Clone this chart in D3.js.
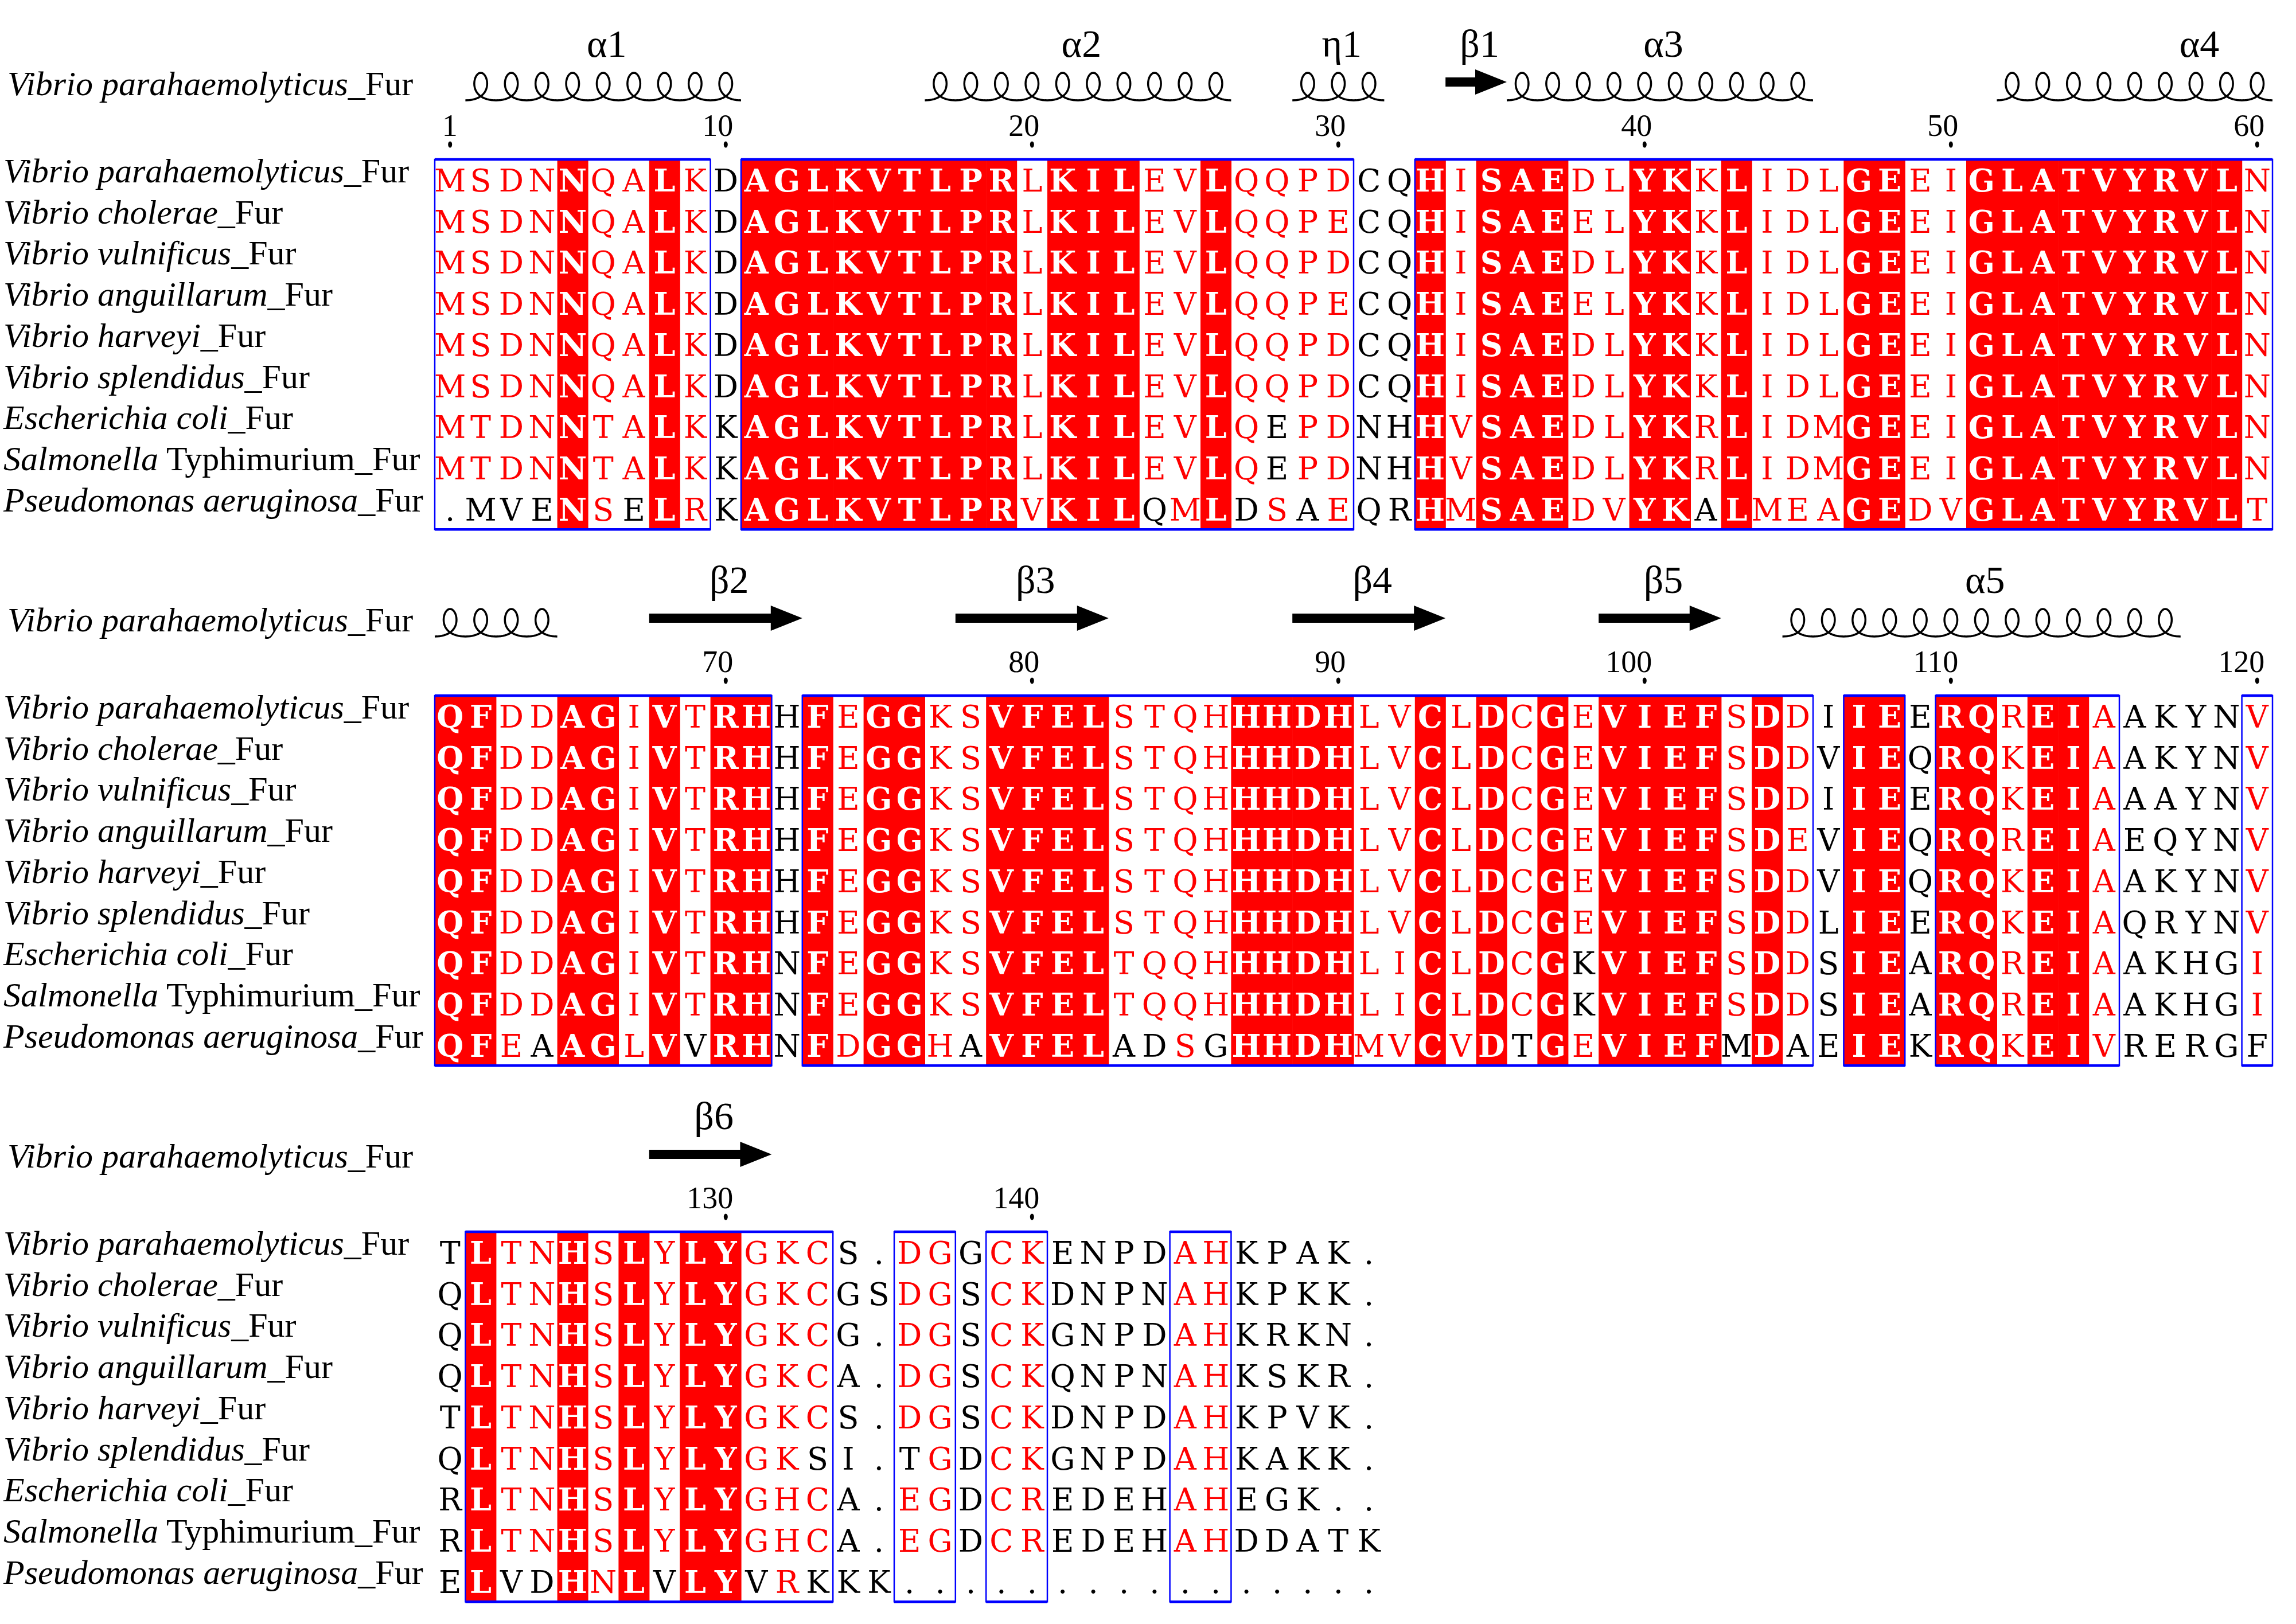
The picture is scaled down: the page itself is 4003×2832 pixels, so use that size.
<!DOCTYPE html>
<html>
<head>
<meta charset="utf-8">
<script src="https://cdn.jsdelivr.net/npm/d3@7"></script>
<style>
  html, body { margin: 0; padding: 0; background: #fff; }
  svg { display: block; }
  .serif { font-family: "Liberation Serif", "Times New Roman", Times, serif; }
  .res { font-family: "DejaVu Serif", serif; }
</style>
</head>
<body>
<svg id="chart"></svg>
<script>
// alignment data
var speciesItalic = ["Vibrio parahaemolyticus", "Vibrio cholerae", "Vibrio vulnificus", "Vibrio anguillarum",
  "Vibrio harveyi", "Vibrio splendidus", "Escherichia coli", "Salmonella", "Pseudomonas aeruginosa"];
var speciesSuffix = ["_Fur", "_Fur", "_Fur", "_Fur", "_Fur", "_Fur", "_Fur", " Typhimurium_Fur", "_Fur"];

var sequences = [
  "MSDNNQALKDAGLKVTLPRLKILEVLQQPDCQHISAEDLYKKLIDLGEEIGLATVYRVLN" + "QFDDAGIVTRHHFEGGKSVFELSTQHHHDHLVCLDCGEVIEFSDDIIEERQREIAAKYNV" + "TLTNHSLYLYGKCS.DGGCKENPDAHKPAK.",
  "MSDNNQALKDAGLKVTLPRLKILEVLQQPECQHISAEELYKKLIDLGEEIGLATVYRVLN" + "QFDDAGIVTRHHFEGGKSVFELSTQHHHDHLVCLDCGEVIEFSDDVIEQRQKEIAAKYNV" + "QLTNHSLYLYGKCGSDGSCKDNPNAHKPKK.",
  "MSDNNQALKDAGLKVTLPRLKILEVLQQPDCQHISAEDLYKKLIDLGEEIGLATVYRVLN" + "QFDDAGIVTRHHFEGGKSVFELSTQHHHDHLVCLDCGEVIEFSDDIIEERQKEIAAAYNV" + "QLTNHSLYLYGKCG.DGSCKGNPDAHKRKN.",
  "MSDNNQALKDAGLKVTLPRLKILEVLQQPECQHISAEELYKKLIDLGEEIGLATVYRVLN" + "QFDDAGIVTRHHFEGGKSVFELSTQHHHDHLVCLDCGEVIEFSDEVIEQRQREIAEQYNV" + "QLTNHSLYLYGKCA.DGSCKQNPNAHKSKR.",
  "MSDNNQALKDAGLKVTLPRLKILEVLQQPDCQHISAEDLYKKLIDLGEEIGLATVYRVLN" + "QFDDAGIVTRHHFEGGKSVFELSTQHHHDHLVCLDCGEVIEFSDDVIEQRQKEIAAKYNV" + "TLTNHSLYLYGKCS.DGSCKDNPDAHKPVK.",
  "MSDNNQALKDAGLKVTLPRLKILEVLQQPDCQHISAEDLYKKLIDLGEEIGLATVYRVLN" + "QFDDAGIVTRHHFEGGKSVFELSTQHHHDHLVCLDCGEVIEFSDDLIEERQKEIAQRYNV" + "QLTNHSLYLYGKSI.TGDCKGNPDAHKAKK.",
  "MTDNNTALKKAGLKVTLPRLKILEVLQEPDNHHVSAEDLYKRLIDMGEEIGLATVYRVLN" + "QFDDAGIVTRHNFEGGKSVFELTQQHHHDHLICLDCGKVIEFSDDSIEARQREIAAKHGI" + "RLTNHSLYLYGHCA.EGDCREDEHAHEGK..",
  "MTDNNTALKKAGLKVTLPRLKILEVLQEPDNHHVSAEDLYKRLIDMGEEIGLATVYRVLN" + "QFDDAGIVTRHNFEGGKSVFELTQQHHHDHLICLDCGKVIEFSDDSIEARQREIAAKHGI" + "RLTNHSLYLYGHCA.EGDCREDEHAHDDATK",
  ".MVENSELRKAGLKVTLPRVKILQMLDSAEQRHMSAEDVYKALMEAGEDVGLATVYRVLT" + "QFEAAGLVVRHNFDGGHAVFELADSGHHDHMVCVDTGEVIEFMDAEIEKRQKEIVRERGF" + "ELVDHNLVLYVRKKK................"
];

// i = strictly identical (white on red), s = similar (red, boxed), n = not conserved
var columnClass =
  "ssssissisn" + "iiiiiiiiis" + "iiississss" + "nnisiiissi" + "isisssiiss" + "iiiiiiiiis" +
  "iissiisisi" + "inisiissii" + "iissssiiii" + "ssisisisii" + "iisisniini" + "isiisnnnns" +
  "nissisisii" + "sssnnssnss" + "nnnnssnnnnn";

// residues left black inside similar columns: [row, position]
var blackResidues = [
  [8, 1], [8, 2], [8, 3], [8, 4], [8, 7], [8, 24], [8, 27], [8, 29], [8, 42], [6, 28], [7, 28],
  [8, 64], [8, 69], [8, 78], [8, 83], [8, 84], [8, 86], [8, 96], [8, 103], [8, 105], [8, 120], [6, 98], [7, 98],
  [5, 133], [5, 136],
  [8, 123], [8, 124], [8, 128], [8, 131], [8, 133], [8, 136], [8, 137], [8, 139], [8, 140], [8, 145], [8, 146]
];

// secondary structure of V. parahaemolyticus Fur: [label, type, first, last]
var ssElements = [
  ["α1", "helix", 2, 10], ["α2", "helix", 17, 26], ["η1", "helix", 29, 31], ["β1", "strand", 34, 35],
  ["α3", "helix", 36, 45], ["α4", "helix", 52, 64], ["β2", "strand", 68, 72], ["β3", "strand", 78, 82],
  ["β4", "strand", 89, 93], ["β5", "strand", 99, 102], ["α5", "helix", 105, 117], ["β6", "strand", 128, 131]
];

var tickPositions = [1, 10, 20, 30, 40, 50, 60, 70, 80, 90, 100, 110, 120, 130, 140];

// layout
var W = 4003, H = 2832;
var colsPerBlock = 60, colWidth = 53.4, gridLeft = 758;
var blockStep = 935, boxTop = 278, rowHeight = 71.7;
var seqLength = sequences[0].length;
var gridHeight = sequences.length * rowHeight;
var red = "#ff0000", blue = "#0000ff";

var svg = d3.select("#chart").attr("width", W).attr("height", H);
svg.append("rect").attr("width", W).attr("height", H).attr("fill", "#fff");

var colScale = d3.scaleLinear().domain([0, colsPerBlock]).range([gridLeft, gridLeft + colsPerBlock * colWidth]);
var rowScale = d3.scaleBand().domain(d3.range(sequences.length)).range([0, gridHeight]);

function blockOf(pos) { return Math.floor((pos - 1) / colsPerBlock); }
function colLeft(pos) { return colScale((pos - 1) % colsPerBlock); }
function colCenter(pos) { return colLeft(pos) + colWidth / 2; }

var blackSet = {};
blackResidues.forEach(function(d) { blackSet[d[0] + ":" + d[1]] = true; });

function residueColor(row, pos) {
  var c = columnClass[pos - 1];
  if (c == "i") return "#fff";
  if (c == "s" && !blackSet[row + ":" + pos]) return red;
  return "#000";
}

// helix drawn as a looped coil, one loop per residue
var helixTop = 127, helixBottom = 175, helixCross = 168, loopHalf = 23, uCross = -0.589;
var hq = (helixTop - helixBottom) / 2,
    hs = ((helixTop + helixBottom) / 2 - helixCross + hq * uCross) / (1 - uCross * uCross),
    hp = (helixTop + helixBottom) / 2 - hs;
function helixPoints(first, last) {
  var n = last - first + 1, r = colWidth / (2 * Math.PI), x0 = colLeft(first), pts = [];
  var steps = n * 48;
  for (var k = 0; k <= steps; k++) {
    var t = -Math.PI + 2 * Math.PI * n * k / steps;
    var u = Math.cos(t);
    pts.push([x0 + colWidth / 2 + r * t - loopHalf * Math.sin(t), hp + hq * u + hs * u * u]);
  }
  return pts;
}
var line = d3.line();

var arrowY = 143, arrowBody = 8, arrowHead = 22, headLen = 55;
function arrowPoints(first, last) {
  var a = colLeft(first), b = colLeft(last) + colWidth, h = b - headLen;
  return [[a, arrowY - arrowBody], [h, arrowY - arrowBody], [h, arrowY - arrowHead], [b, arrowY],
          [h, arrowY + arrowHead], [h, arrowY + arrowBody], [a, arrowY + arrowBody]];
}

function addName(sel, i) {
  sel.append("tspan").attr("font-style", "italic").text(speciesItalic[i]);
  sel.append("tspan").attr("font-style", "normal").text(speciesSuffix[i]);
}

var blocks = d3.range(Math.ceil(seqLength / colsPerBlock));

blocks.forEach(function(b) {
  var g = svg.append("g").attr("transform", "translate(0," + (b * blockStep) + ")");
  var first = b * colsPerBlock + 1, last = Math.min(seqLength, first + colsPerBlock - 1);
  var positions = d3.range(first, last + 1);

  // header: structure name, coils, arrows, labels
  g.append("text")
    .attr("class", "serif")
    .attr("x", 13).attr("y", 166)
    .attr("font-size", 60)
    .call(addName, 0);

  ssElements.forEach(function(e) {
    var a = Math.max(e[2], first), z = Math.min(e[3], last);
    if (a > z) return;
    if (e[1] == "helix") {
      g.append("path").attr("d", line(helixPoints(a, z)))
        .attr("fill", "none").attr("stroke", "#000").attr("stroke-width", 3.5);
    } else {
      g.append("path").attr("d", line(arrowPoints(a, z)) + "Z").attr("fill", "#000");
    }
    if (blockOf(e[2]) == b) {
      var mid = (colLeft(e[2]) + colLeft(e[3]) + colWidth) / 2;
      if (blockOf(e[3]) != b) mid = (colLeft(e[2]) + colLeft(e[3]) + colsPerBlock * colWidth + colWidth) / 2;
      g.append("text").attr("class", "serif")
        .attr("x", mid + 6).attr("y", 99)
        .attr("text-anchor", "middle")
        .attr("font-size", 68)
        .text(e[0]);
    }
  });

  var ticks = tickPositions.filter(function(p) { return p >= first && p <= last; });
  g.selectAll(".tick").data(ticks).enter().append("text")
    .attr("class", "tick serif")
    .attr("x", function(p) { return colCenter(p) + 13; })
    .attr("y", 237)
    .attr("text-anchor", "end")
    .attr("font-size", 54)
    .text(function(p) { return p; });
  g.selectAll(".tickdot").data(ticks).enter().append("ellipse")
    .attr("class", "tickdot")
    .attr("cx", colCenter).attr("cy", 252)
    .attr("rx", 3.5).attr("ry", 5.5).attr("fill", "#000");

  // identical columns
  g.selectAll(".ident").data(positions.filter(function(p) { return columnClass[p - 1] == "i"; }))
    .enter().append("rect")
    .attr("class", "ident")
    .attr("x", colLeft).attr("y", boxTop)
    .attr("width", colWidth + 0.6).attr("height", gridHeight)
    .attr("fill", red);

  // row names and residues
  var rows = g.selectAll(".row").data(sequences).enter().append("g")
    .attr("class", "row")
    .attr("transform", function(d, i) { return "translate(0," + (boxTop + rowScale(i)) + ")"; });

  rows.append("text")
    .attr("class", "serif")
    .attr("x", 6).attr("y", 40)
    .attr("font-size", 60)
    .each(function(d, i) { d3.select(this).call(addName, i); });

  rows.each(function(seq, row) {
    d3.select(this).selectAll(".res").data(positions).enter().append("text")
      .attr("class", "res")
      .attr("transform", function(p) { return "translate(" + colCenter(p) + ",56)"; })
      .attr("text-anchor", "middle")
      .attr("font-size", 54)
      .attr("font-weight", function(p) { return columnClass[p - 1] == "i" ? "bold" : "normal"; })
      .attr("fill", function(p) { return residueColor(row, p); })
      .text(function(p) { return seq[p - 1]; });
  });

  // blue frames around conserved runs
  var runs = [], start = null;
  positions.forEach(function(p) {
    if (columnClass[p - 1] != "n") { if (start === null) start = p; }
    else if (start !== null) { runs.push([start, p - 1]); start = null; }
  });
  if (start !== null) runs.push([start, last]);

  var frames = g.selectAll(".frame").data(runs).enter().append("g").attr("class", "frame");
  frames.append("rect")
    .attr("x", function(d) { return colLeft(d[0]); }).attr("y", boxTop)
    .attr("width", function(d) { return (d[1] - d[0] + 1) * colWidth; }).attr("height", gridHeight)
    .attr("fill", "none").attr("stroke", blue).attr("stroke-width", 2.5);
  [boxTop, boxTop + gridHeight].forEach(function(yy) {
    frames.append("line")
      .attr("x1", function(d) { return colLeft(d[0]); })
      .attr("x2", function(d) { return colLeft(d[0]) + (d[1] - d[0] + 1) * colWidth; })
      .attr("y1", yy).attr("y2", yy)
      .attr("stroke", blue).attr("stroke-width", 4.5);
  });
});
</script>
</body>
</html>
